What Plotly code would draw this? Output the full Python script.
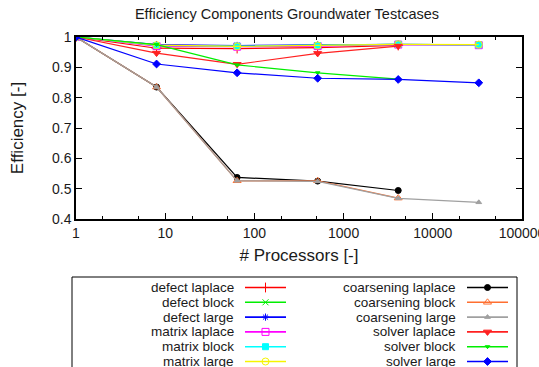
import plotly.graph_objects as go

procs = [1, 8, 64, 512, 4096, 32768]

defect_laplace = [1.0, 0.963, 0.962, 0.965, 0.972]
defect_block = [1.0, 0.972, 0.970, 0.973, 0.976]
defect_large = [1.0, 0.975, 0.972, 0.974, 0.976, 0.974]
matrix_laplace = [1.0, 0.970, 0.968, 0.970, 0.975, 0.973]
matrix_block = [1.0, 0.972, 0.970, 0.972, 0.976, 0.974]
matrix_large = [1.0, 0.973, 0.969, 0.972, 0.976, 0.975]
coarsening_laplace = [1.0, 0.835, 0.537, 0.525, 0.494]
coarsening_block = [1.0, 0.835, 0.526, 0.526, 0.469]
coarsening_large = [1.0, 0.835, 0.526, 0.524, 0.468, 0.455]
solver_laplace = [1.0, 0.947, 0.910, 0.946, 0.970]
solver_block = [1.0, 0.975, 0.908, 0.882, 0.861]
solver_large = [1.0, 0.911, 0.882, 0.864, 0.860, 0.849]

series = [
    ("defect laplace", defect_laplace, "#ff0000", "cross-thin-open", 7),
    ("defect block", defect_block, "#00ee00", "x-thin-open", 6),
    ("defect large", defect_large, "#0000ff", "asterisk-open", 6),
    ("matrix laplace", matrix_laplace, "#ff00ff", "square-open", 7),
    ("matrix block", matrix_block, "#00ffff", "square", 6),
    ("matrix large", matrix_large, "#f5f500", "circle-open", 7),
    ("coarsening laplace", coarsening_laplace, "#000000", "circle", 6),
    ("coarsening block", coarsening_block, "#ff6f30", "triangle-up-open", 7),
    ("coarsening large", coarsening_large, "#a0a0a0", "triangle-up", 5),
    ("solver laplace", solver_laplace, "#ff2020", "triangle-down", 7),
    ("solver block", solver_block, "#00ee00", "triangle-down", 4),
    ("solver large", solver_large, "#0000ff", "diamond", 6),
]

W, H = 539, 367
# plot area in pixels
PL, PR, PT, PB = 76, 522, 37, 219

fig = go.Figure()
for name, vals, color, sym, sz in series:
    fig.add_trace(go.Scatter(
        x=procs[:len(vals)], y=vals, name=name, mode="lines+markers",
        line=dict(color=color, width=1.2),
        marker=dict(symbol=sym, size=sz, color=color, line=dict(color=color, width=1)),
        showlegend=False, xaxis="x", yaxis="y",
    ))

# gnuplot-style key: text right-aligned, sample to the right, two columns
key_top, row_h = 287.5, 14.8
col_text = [236, 458]
col_line = [(245, 286), (467, 508)]
annotations = []
for idx, (name, vals, color, sym, sz) in enumerate(series):
    col, row = divmod(idx, 6)
    yy = key_top + row * row_h
    x0, x1 = col_line[col]
    fig.add_trace(go.Scatter(
        x=[x0, x1], y=[yy, yy], mode="lines",
        line=dict(color=color, width=1.6),
        showlegend=False, hoverinfo="skip", xaxis="x2", yaxis="y2",
    ))
    fig.add_trace(go.Scatter(
        x=[(x0 + x1) / 2], y=[yy], mode="markers",
        marker=dict(symbol=sym, size=sz, color=color, line=dict(color=color, width=1)),
        showlegend=False, hoverinfo="skip", xaxis="x2", yaxis="y2",
    ))
    annotations.append(dict(
        x=col_text[col], y=yy, xref="x2", yref="y2", text=name, showarrow=False,
        xanchor="right", yanchor="middle", font=dict(size=13.5, color="#1a1a1a"),
    ))

fig.update_layout(
    width=W, height=H,
    margin=dict(l=0, r=0, t=0, b=0, autoexpand=False),
    paper_bgcolor="white", plot_bgcolor="rgba(0,0,0,0)",
    font=dict(family="Liberation Sans, Arial, sans-serif", size=14, color="#1a1a1a"),
    title=dict(text="Efficiency Components Groundwater Testcases", x=287 / W, xanchor="center",
               xref="paper", y=1 - 14 / H, yanchor="middle", yref="container",
               font=dict(size=14.5)),
    showlegend=False,
    annotations=annotations,
    shapes=[dict(type="rect", xref="paper", yref="paper",
                 x0=72 / W, x1=517 / W, y0=-0.05, y1=1 - 277 / H,
                 line=dict(color="black", width=1), fillcolor="rgba(0,0,0,0)")],
    xaxis=dict(
        domain=[PL / W, PR / W], anchor="y",
        type="log", range=[0, 5], showgrid=False, zeroline=False,
        showline=True, linecolor="black", linewidth=1.5, mirror="allticks",
        ticks="inside", ticklen=6, tickcolor="black", ticklabeloverflow="allow",
        tickvals=[1, 10, 100, 1000, 10000, 100000],
        ticktext=["1", "10", "100", "1000", "10000", "100000"],
        minor=dict(ticks="inside", ticklen=3, tickcolor="black", dtick="D2"),
        title=dict(text="# Processors [-]", standoff=10),
    ),
    yaxis=dict(
        domain=[1 - PB / H, 1 - PT / H], anchor="x",
        range=[0.4, 1.0], showgrid=False, zeroline=False,
        showline=True, linecolor="black", linewidth=1.5, mirror="allticks",
        ticks="inside", ticklen=6, tickcolor="black",
        tickvals=[0.4, 0.5, 0.6, 0.7, 0.8, 0.9, 1.0],
        ticktext=["0.4", "0.5", "0.6", "0.7", "0.8", "0.9", "1"],
        title=dict(text="Efficiency [-]", standoff=24),
    ),
    xaxis2=dict(domain=[0, 1], range=[0, W], visible=False, anchor="y2", fixedrange=True),
    yaxis2=dict(domain=[0, 1], range=[H, 0], visible=False, anchor="x2", fixedrange=True),
)

fig.write_html("out.html", config={"displayModeBar": False},
               post_script="document.body.style.margin='0px';")
